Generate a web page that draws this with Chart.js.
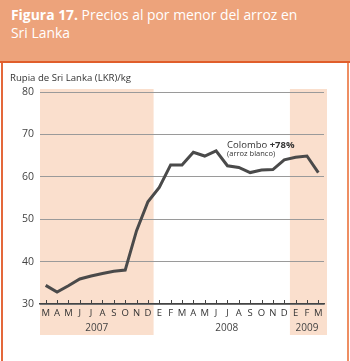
<!DOCTYPE html>
<html>
<head>
<meta charset="utf-8">
<script src="https://cdn.jsdelivr.net/npm/chart.js@4"></script>
<style>
  body { margin: 0; background: #fff; }
  #wrap { position: relative; width: 350px; height: 361px; overflow: hidden; font-family: "Open Sans", sans-serif; }
  #banner { position: absolute; left: 0; top: 0; width: 350px; height: 61px; background: #EDA37B; color: #fff;
            font-size: 13.9px; line-height: 18px; padding: 6px 0 0 11px; box-sizing: border-box; }
  #banner b { font-weight: 700; }
  #rule { position: absolute; left: 0; top: 61px; width: 350px; height: 2px; background: #E05E2B; }
  #lborder { position: absolute; left: 1px; top: 63px; width: 2px; height: 298px; background: #E4683A; }
  #rborder { position: absolute; left: 347px; top: 63px; width: 2px; height: 298px; background: #EE8E63; }
  #myChart { position: absolute; left: 3px; top: 63px; }
</style>
</head>
<body>
<div id="wrap">
  <div id="banner"><b>Figura 17.</b> Precios al por menor del arroz en<br>Sri Lanka</div>
  <div id="rule"></div>
  <div id="lborder"></div>
  <div id="rborder"></div>
  <canvas id="myChart" width="344" height="298"></canvas>
</div>
<script>
// monthly retail price of rice, Colombo (LKR/kg), Mar 2007 - Mar 2009
const months = ['M','A','M','J','J','A','S','O','N','D',
                'E','F','M','A','M','J','J','A','S','O','N','D',
                'E','F','M'];
const prices = [34.4, 32.8, 34.3, 35.9, 36.6, 37.2, 37.7, 38.0, 47.3, 54.1,
                57.5, 62.8, 62.8, 65.8, 64.9, 66.1, 62.6, 62.2, 61.0, 61.6, 61.7, 64.0,
                64.6, 64.9, 61.0];
const yearLabels = ['2007', '2008', '2009'];
const yearFirst = [0, 10, 22];
const yearLast = [9, 21, 24];
const yearShaded = [true, false, true];
const yTicks = [30, 40, 50, 60, 70, 80];

const shade = '#FADFCD';

const decor = {
    id: 'decor',
    beforeDraw(chart) {
        const c = chart.ctx, xs = chart.scales.x, a = chart.chartArea;
        const half = (xs.getPixelForValue(1) - xs.getPixelForValue(0)) / 2;
        c.save();
        c.fillStyle = shade;
        yearLabels.forEach((y, k) => {
            if (!yearShaded[k]) return;
            let x0 = xs.getPixelForValue(yearFirst[k]) - half;
            let x1 = xs.getPixelForValue(yearLast[k]) + half;
            if (k === yearLabels.length - 1) x1 += 3;
            c.fillRect(x0, a.top - 3, x1 - x0, a.bottom - a.top + 34);
        });
        c.restore();
    },
    afterDraw(chart) {
        const c = chart.ctx, xs = chart.scales.x, ys = chart.scales.y, a = chart.chartArea;
        c.save();
        // small upward ticks on the x axis
        c.strokeStyle = '#444';
        c.lineWidth = 1;
        months.forEach((m, i) => {
            const x = Math.round(xs.getPixelForValue(i)) + 0.5;
            c.beginPath();
            c.moveTo(x, a.bottom);
            c.lineTo(x, a.bottom - 4);
            c.stroke();
        });
        // year labels
        c.fillStyle = '#444';
        c.font = '10px "Open Sans"';
        c.textAlign = 'center';
        c.textBaseline = 'middle';
        yearLabels.forEach((y, k) => {
            const x = (xs.getPixelForValue(yearFirst[k]) + xs.getPixelForValue(yearLast[k])) / 2;
            c.fillText(y, x + (k === 1 ? 5 : 0), a.bottom + 24);
        });
        // axis title
        c.textAlign = 'left';
        c.fillStyle = '#333';
        c.font = '9.6px "Open Sans"';
        c.fillText('Rupia de Sri Lanka (LKR)/kg', 7, 15);
        // annotation
        const ax = xs.getPixelForValue(15) + 11;
        const ay = ys.getPixelForValue(66.9);
        c.textBaseline = 'alphabetic';
        c.font = '9.5px "Open Sans"';
        c.fillStyle = '#333';
        c.fillText('Colombo ', ax, ay);
        const w = c.measureText('Colombo ').width;
        c.font = 'bold 9.5px "Open Sans"';
        c.fillText('+78%', ax + w, ay);
        c.font = '7.5px "Open Sans"';
        c.fillText('(arroz blanco)', ax, ay + 8.5);
        c.restore();
    }
};

const ctx = document.getElementById('myChart').getContext('2d');
const myChart = new Chart(ctx, {
    type: 'line',
    data: {
        labels: months,
        datasets: [{
            data: prices,
            borderColor: '#4A4A4A',
            borderWidth: 3,
            pointRadius: 0,
            tension: 0,
            fill: false
        }]
    },
    options: {
        responsive: false,
        animation: false,
        layout: { padding: { top: 29, right: 23, bottom: 0, left: 0 } },
        plugins: {
            legend: { display: false },
            tooltip: { enabled: false }
        },
        scales: {
            x: {
                offset: true,
                grid: { display: false, drawTicks: false },
                border: { color: '#444', width: 1.5 },
                ticks: {
                    color: '#333',
                    font: { family: 'Open Sans', size: 9.5 },
                    padding: 4,
                    autoSkip: false,
                    maxRotation: 0
                },
                afterFit(s) { s.height = 57; }
            },
            y: {
                min: 30,
                max: 80,
                afterBuildTicks(s) { s.ticks = yTicks.map(v => ({ value: v })); },
                grid: { color: '#9A9A9A', lineWidth: 1, drawTicks: false },
                border: { display: false },
                ticks: {
                    color: '#444',
                    font: { family: 'Open Sans', size: 10.5 },
                    padding: 6
                },
                afterFit(s) { s.width = 37; }
            }
        }
    },
    plugins: [decor]
});
</script>
</body>
</html>
